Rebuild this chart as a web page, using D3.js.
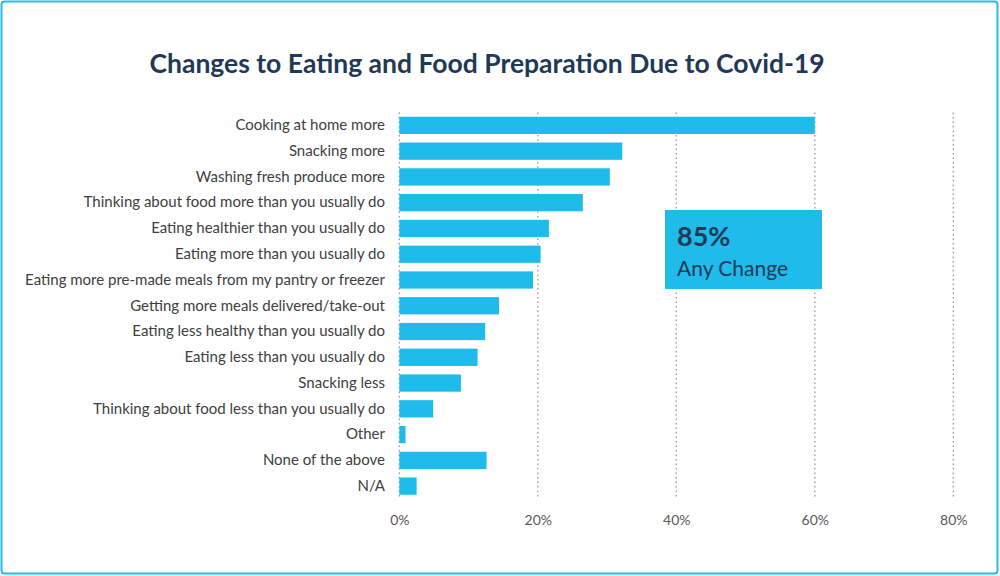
<!DOCTYPE html>
<html><head><meta charset="utf-8">
<script src="https://cdn.jsdelivr.net/npm/d3@7"></script>
<style>body{margin:0;background:#fff}svg{display:block}</style>
</head><body>
<svg id="c" width="1000" height="576"></svg>
<script>
const categories = [
  "Cooking at home more",
  "Snacking more",
  "Washing fresh produce more",
  "Thinking about food more than you usually do",
  "Eating healthier than you usually do",
  "Eating more than you usually do",
  "Eating more pre-made meals from my pantry or freezer",
  "Getting more meals delivered/take-out",
  "Eating less healthy than you usually do",
  "Eating less than you usually do",
  "Snacking less",
  "Thinking about food less than you usually do",
  "Other",
  "None of the above",
  "N/A"
];
const values = [60, 32.2, 30.4, 26.5, 21.6, 20.4, 19.3, 14.4, 12.4, 11.3, 8.9, 4.9, 0.9, 12.6, 2.5];
const tickValues = [0, 20, 40, 60, 80];
const title = "Changes to Eating and Food Preparation Due to Covid-19";
const calloutValue = "85%";
const calloutLabel = "Any Change";

const svg = d3.select("#c");
const font = "Lato, 'Open Sans', sans-serif";
const barColor = "#1EBBEB";

svg.append("rect").attr("x",1.5).attr("y",1.5).attr("width",996).attr("height",572)
  .attr("rx",3).attr("fill","#fff").attr("stroke","#2AB8EA").attr("stroke-width",2);

svg.append("text").attr("x",487).attr("y",73).attr("text-anchor","middle")
  .attr("font-family",font).attr("font-weight","bold").attr("font-size",26.5)
  .attr("fill","#1F3956").text(title);

const x = d3.scaleLinear().domain([0,80]).range([399.3,953.3]);
const y = d3.scaleBand().domain(categories).range([112.5,499]).paddingInner(0.33).paddingOuter(0.165);

// gridlines
svg.append("g").selectAll("line").data(tickValues).join("line")
  .attr("x1",d=>x(d)).attr("x2",d=>x(d)).attr("y1",112.5).attr("y2",499)
  .attr("stroke","#A0A0A0").attr("stroke-width",1.4).attr("stroke-dasharray","1.5,3");

// bars
svg.append("g").selectAll("rect").data(values).join("rect")
  .attr("x",x(0)).attr("y",(d,i)=>y(categories[i]))
  .attr("width",d=>x(d)-x(0)).attr("height",y.bandwidth())
  .attr("fill",barColor);

// category labels
const yAxis = d3.axisLeft(y).tickSize(0).tickPadding(0);
const gy = svg.append("g").attr("transform","translate(385,0)").call(yAxis);
gy.select(".domain").remove();
gy.selectAll("text").attr("font-family",font).attr("font-size",15).attr("fill","#404040");

// x tick labels
const xAxis = d3.axisBottom(x).tickValues(tickValues).tickSize(0).tickPadding(0).tickFormat(d=>d+"%");
const gx = svg.append("g").attr("transform","translate(0,514)").call(xAxis);
gx.select(".domain").remove();
gx.selectAll("text").attr("font-family",font).attr("font-size",14).attr("fill","#595959").attr("dy","0.78em");

// callout
svg.append("rect").attr("x",665).attr("y",210).attr("width",157).attr("height",79).attr("fill",barColor);
svg.append("text").attr("x",677).attr("y",245.5).attr("font-family",font).attr("font-weight","bold")
  .attr("font-size",27).attr("fill","#1F3956").text(calloutValue);
svg.append("text").attr("x",677).attr("y",276).attr("font-family",font)
  .attr("font-size",21).attr("fill","#1F3956").text(calloutLabel);
</script>
</body></html>
